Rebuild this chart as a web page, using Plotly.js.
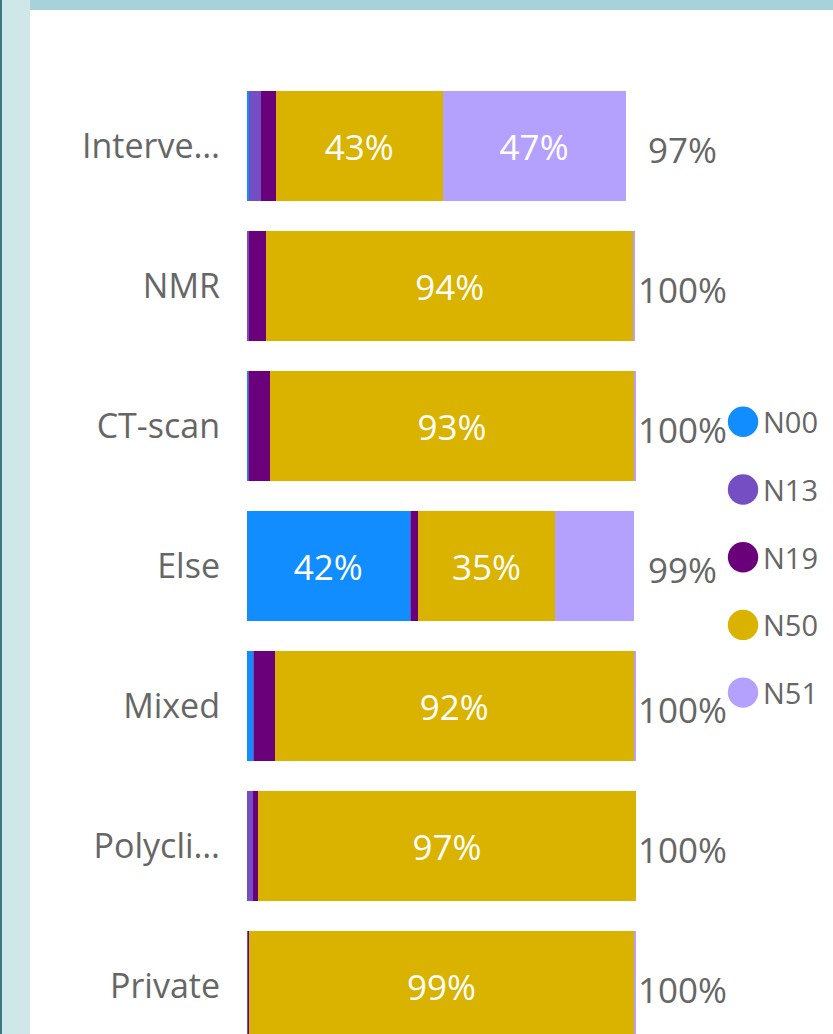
<!DOCTYPE html>
<html>
<head>
<meta charset="utf-8">
<script src="https://cdn.plot.ly/plotly-3.0.1.min.js"></script>
<style>
  html, body { margin: 0; padding: 0; width: 833px; height: 1034px; overflow: hidden; background: #ffffff; }
  #chart { position: absolute; left: 0; top: 0; width: 833px; height: 1080px; }
  .stripL1 { position: absolute; left: 0; top: 0; width: 2px; height: 1034px; background: #3a7780; z-index: 5; }
  .stripL2 { position: absolute; left: 2px; top: 0; width: 28px; height: 1034px; background: #d0e7ea; z-index: 5; }
  .stripT { position: absolute; left: 30px; top: 0; width: 803px; height: 10px; background: #a6d3d9; z-index: 5; }
</style>
</head>
<body>
<div id="chart"></div>
<div class="stripL1"></div>
<div class="stripL2"></div>
<div class="stripT"></div>
<script>
// ---- data (percent shares) ----
const categories = ["Interve…", "NMR", "CT-scan", "Else", "Mixed", "Polycli…", "Private"];
const seriesNames = ["N00", "N13", "N19", "N50", "N51"];
const N00 = [0.4, 0.0, 0.3, 41.8, 1.6, 0.0, 0.0];
const N13 = [3.3, 0.5, 0.1, 0.4, 0.3, 1.5, 0.2];
const N19 = [3.7, 4.4, 5.6, 1.7, 5.2, 1.3, 0.2];
const N50 = [42.9, 94.4, 93.4, 35.3, 92.3, 97.2, 99.2];
const N51 = [47.0, 0.5, 0.5, 20.2, 0.5, 0.0, 0.3];
const seriesColors = ["#118DFF", "#744EC2", "#6B007B", "#D9B300", "#B4A1FE"];

const seriesValues = [N00, N13, N19, N50, N51];
const labelMin = 30;          // segments narrower than this carry no label
const textGray = "#666666";
const fontFam = "'Open Sans', 'Noto Sans', sans-serif";

const traces = [];
seriesValues.forEach((vals, i) => {
  traces.push({
    type: "bar",
    orientation: "h",
    name: seriesNames[i],
    y: categories,
    x: vals,
    marker: { color: seriesColors[i], line: { width: 0 } },
    text: vals.map(v => v >= labelMin ? Math.round(v) + "%" : ""),
    textposition: "inside",
    insidetextanchor: "middle",
    constraintext: "none",
    textfont: { color: "#ffffff", size: 35, family: fontFam },
    hoverinfo: "name+x+y",
    showlegend: false
  });
});
// legend entries (circle markers)
seriesNames.forEach((n, i) => {
  traces.push({
    type: "scatter",
    mode: "markers",
    name: n,
    x: [null],
    y: [null],
    legendgroup: n,
    marker: { color: seriesColors[i], size: 16, symbol: "circle" },
    showlegend: true,
    hoverinfo: "skip"
  });
});

// totals to the right of each bar
const totals = categories.map((c, k) => seriesValues.reduce((s, arr) => s + arr[k], 0));
const annotations = categories.map((c, k) => ({
  xref: "paper", yref: "y",
  x: 1.12, y: c,
  xanchor: "center", yanchor: "middle",
  yshift: -3,
  text: Math.round(totals[k]) + "%",
  showarrow: false,
  font: { size: 35, color: textGray, family: fontFam }
}));

const layout = {
  width: 833,
  height: 1080,
  margin: { l: 247, r: 197, t: 76, b: 24, pad: 0, autoexpand: false },
  paper_bgcolor: "rgba(0,0,0,0)",
  plot_bgcolor: "rgba(0,0,0,0)",
  barmode: "stack",
  bargap: 0.214,
  showlegend: true,
  font: { family: fontFam, color: textGray },
  xaxis: {
    range: [0, 100],
    showgrid: false, zeroline: false, showline: false,
    showticklabels: false, ticks: "", fixedrange: true
  },
  yaxis: {
    type: "category",
    categoryorder: "array",
    categoryarray: categories,
    autorange: "reversed",
    showgrid: false, zeroline: false, showline: false,
    ticks: "",
    ticklabelstandoff: 26,
    tickfont: { size: 34, color: textGray, family: fontFam },
    fixedrange: true
  },
  legend: {
    x: 1.2237, xanchor: "left",
    y: 0.673, yanchor: "top",
    traceorder: "grouped",
    tracegroupgap: 27,
    font: { size: 29, color: textGray, family: fontFam },
    bgcolor: "rgba(0,0,0,0)",
    borderwidth: 0
  },
  annotations: annotations
};

Plotly.newPlot("chart", traces, layout, { displayModeBar: false, staticPlot: true }).then(gd => {
  gd.querySelectorAll(".legend .legendpoints path").forEach(p => {
    const t = p.getAttribute("transform") || "";
    p.setAttribute("transform", t + " scale(1.9)");
  });
});
</script>
</body>
</html>
